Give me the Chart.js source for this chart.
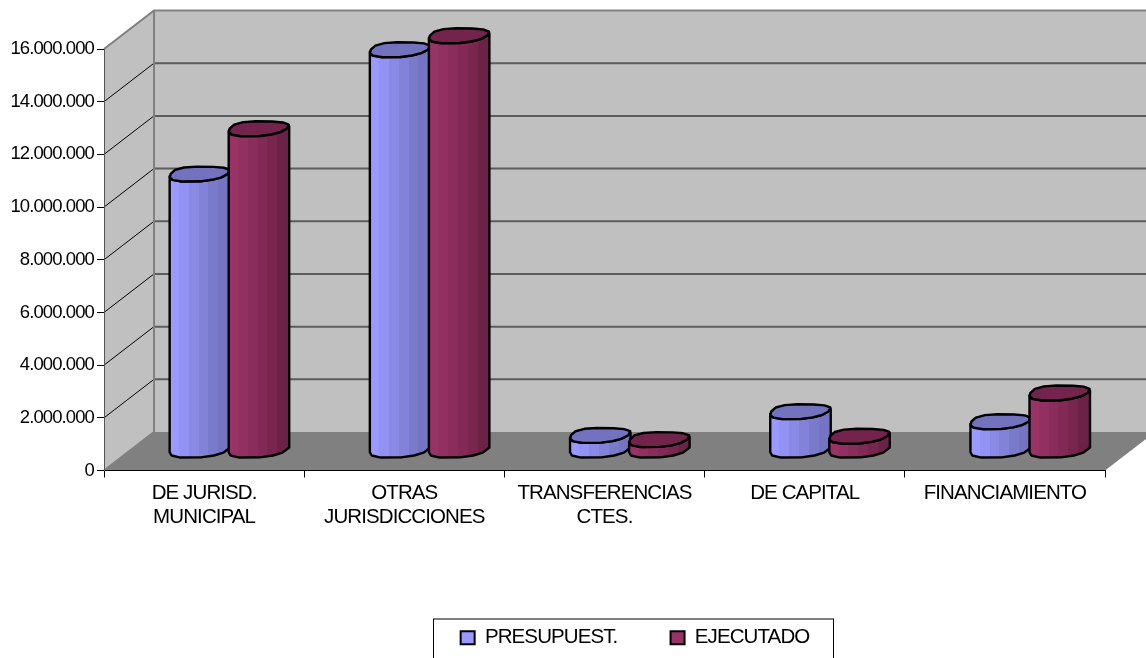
<!DOCTYPE html>
<html>
<head>
<meta charset="utf-8">
<title>Presupuestado y ejecutado</title>
<script src="https://cdn.jsdelivr.net/npm/chart.js@4/dist/chart.umd.min.js"></script>
<style>
  html, body { margin: 0; padding: 0; background: #fff; overflow: hidden; }
  canvas { display: block; }
</style>
</head>
<body>
<canvas id="myChart" width="1146" height="658"></canvas>
<script>
const categorias = [
  ["DE JURISD.", "MUNICIPAL"],
  ["OTRAS", "JURISDICCIONES"],
  ["TRANSFERENCIAS", "CTES."],
  "DE CAPITAL",
  "FINANCIAMIENTO",
];
const presupuestado = [10500000, 15220000, 580000, 1480000, 1100000];
const ejecutado = [12220000, 15750000, 420000, 550000, 2190000];
const tickLabels = ["0", "2.000.000", "4.000.000", "6.000.000", "8.000.000", "10.000.000", "12.000.000", "14.000.000", "16.000.000"];

// profundidad del grafico 3D (pared del fondo respecto al plano frontal)
const depthX = 50;
const depthY = -38.5;
const espaciado = "-0.9px";

const tonos = [
  { body: ["#9999ff", "#9292f3", "#8a8ae6", "#8282d8", "#7a7acb", "#7474c2"], top: "#7272bf" },
  { body: ["#993366", "#923062", "#8a2d5c", "#822a55", "#78264e", "#6c2247"], top: "#72244c" },
];

function poly(ctx, pts, fill) {
  ctx.beginPath();
  pts.forEach((p, i) => (i ? ctx.lineTo(p[0], p[1]) : ctx.moveTo(p[0], p[1])));
  ctx.closePath();
  ctx.fillStyle = fill;
  ctx.fill();
}

const paredes = {
  id: "paredes",
  beforeLayout(chart) {
    chart.ctx.letterSpacing = espaciado;
  },
  beforeDraw(chart) {
    const ctx = chart.ctx;
    const a = chart.chartArea;
    const y = chart.scales.y;
    ctx.letterSpacing = espaciado;
    ctx.save();
    // paredes y piso
    poly(ctx, [[a.left, a.top], [a.left + depthX, a.top + depthY], [a.left + depthX, a.bottom + depthY], [a.left, a.bottom]], "#c0c0c0");
    poly(ctx, [[a.left + depthX, a.top + depthY], [a.right + depthX, a.top + depthY], [a.right + depthX, a.bottom + depthY], [a.left + depthX, a.bottom + depthY]], "#c0c0c0");
    poly(ctx, [[a.left, a.bottom], [a.left + depthX, a.bottom + depthY], [a.right + depthX, a.bottom + depthY], [a.right, a.bottom]], "#808080");

    // lineas de grilla
    y.ticks.forEach((t) => {
      const py = y.getPixelForValue(t.value);
      if (t.value === 0 || t.value === y.max) return;
      ctx.strokeStyle = "#000";
      ctx.lineWidth = 1;
      ctx.beginPath();
      ctx.moveTo(a.left, py);
      ctx.lineTo(a.left + depthX, py + depthY);
      ctx.stroke();
      ctx.strokeStyle = "#5c5c5c";
      ctx.lineWidth = 2;
      ctx.beginPath();
      ctx.moveTo(a.left + depthX, py + depthY);
      ctx.lineTo(a.right + depthX, py + depthY);
      ctx.stroke();
    });

    // bordes grises
    ctx.strokeStyle = "#808080";
    ctx.lineWidth = 2;
    ctx.beginPath();
    ctx.moveTo(a.left, a.top);
    ctx.lineTo(a.left + depthX, a.top + depthY);
    ctx.lineTo(a.right + depthX, a.top + depthY);
    ctx.moveTo(a.left + depthX, a.top + depthY);
    ctx.lineTo(a.left + depthX, a.bottom + depthY);
    ctx.lineTo(a.left, a.bottom);
    ctx.stroke();
    ctx.restore();
  },
  afterLayout(chart) {
    // la leyenda va centrada bajo el area con profundidad
    const lg = chart.legend;
    const shift = 635 - (lg.left + lg.right) / 2;
    lg.left += shift;
    lg.right += shift;
  },
  afterDraw(chart) {
    const ctx = chart.ctx;
    ctx.save();
    ctx.strokeStyle = "#000";
    ctx.lineWidth = 1;
    ctx.strokeRect(433.5, chart.legend.top + 1.5, 400, 60);
    ctx.restore();
  },
};

function cilindro(ctx, el, tono) {
  const ry = 7.5;
  const sk = 7;
  const rx = Math.sqrt(Math.max(el.width * el.width * 0.25 - sk * sk, 1));
  const cx = el.x + depthX * 0.48;
  const topY = el.y + depthY * 0.52;
  const baseY = el.base + depthY * 0.52;
  const t0 = Math.atan2(-sk, -rx);
  const t1 = Math.atan2(sk, rx);
  // borde poligonal y algo irregular, como el cilindro de la planilla
  const pt = (t, cy) => {
    const w = 1 + 0.045 * Math.sin(3 * t + 0.6);
    const c = Math.sign(Math.cos(t)) * Math.pow(Math.abs(Math.cos(t)), 0.8);
    const s = Math.sign(Math.sin(t)) * Math.pow(Math.abs(Math.sin(t)), 0.8);
    return [cx + w * (rx * c + sk * s), cy - w * ry * s];
  };
  const frente = (cy) => {
    const out = [];
    for (let i = 0; i <= 6; i++) out.push(pt(t0 + ((t1 - t0) * i) / 6, cy));
    return out;
  };

  const grad = ctx.createLinearGradient(cx - el.width / 2, 0, cx + el.width / 2, 0);
  tono.body.forEach((c, i, arr) => {
    grad.addColorStop(i / arr.length, c);
    grad.addColorStop((i + 1) / arr.length, c);
  });

  const cuerpo = frente(baseY).concat(frente(topY).reverse());
  poly(ctx, cuerpo, grad);
  ctx.strokeStyle = "#000";
  ctx.lineWidth = 2.4;
  ctx.lineJoin = "round";
  ctx.stroke();

  const tapa = [];
  for (let i = 0; i < 14; i++) tapa.push(pt((i * Math.PI) / 7, topY));
  poly(ctx, tapa, tono.top);
  ctx.stroke();
}

const cilindros = {
  id: "cilindros",
  beforeDatasetsDraw(chart) {
    const ctx = chart.ctx;
    ctx.save();
    chart.scales.x.ticks.forEach((t, i) => {
      chart.data.datasets.forEach((ds, d) => {
        cilindro(ctx, chart.getDatasetMeta(d).data[i], tonos[d]);
      });
    });
    ctx.restore();
    return false;
  },
};

new Chart(document.getElementById("myChart").getContext("2d"), {
  type: "bar",
  data: {
    labels: categorias,
    datasets: [
      { label: "PRESUPUEST.", data: presupuestado, backgroundColor: "#9999ff", borderColor: "#000", borderWidth: 2 },
      { label: "EJECUTADO", data: ejecutado, backgroundColor: "#993366", borderColor: "#000", borderWidth: 2 },
    ],
  },
  plugins: [paredes, cilindros],
  options: {
    responsive: false,
    animation: false,
    layout: { padding: { top: 49, right: 41 } },
    categoryPercentage: 0.59,
    barPercentage: 1,
    plugins: {
      tooltip: { enabled: false },
      legend: {
        position: "bottom",
        labels: {
          color: "#000",
          font: { family: "'Liberation Sans'", size: 20.5 },
          boxWidth: 14,
          boxHeight: 13,
          padding: 10,
          generateLabels(chart) {
            const items = Chart.defaults.plugins.legend.labels.generateLabels(chart);
            items[0].text += "\u00a0".repeat(9);
            return items;
          },
        },
      },
    },
    scales: {
      x: {
        afterFit(scale) { scale.height = 147; },
        grid: { drawOnChartArea: false, tickLength: 7, tickColor: "#000" },
        border: { color: "#000", width: 1 },
        ticks: {
          color: "#000",
          autoSkip: false,
          maxRotation: 0,
          padding: 4,
          font: { family: "'Liberation Sans'", size: 20.5, lineHeight: 1.15 },
        },
      },
      y: {
        min: 0,
        max: 16000000,
        afterFit(scale) { scale.width = 104; },
        grid: { drawOnChartArea: false, tickLength: 7, tickColor: "#000" },
        border: { color: "#555", width: 1 },
        ticks: {
          color: "#000",
          stepSize: 2000000,
          padding: 3,
          font: { family: "'Liberation Sans'", size: 18.5 },
          callback: (v) => tickLabels[v / 2000000],
        },
      },
    },
  },
});
</script>
</body>
</html>
